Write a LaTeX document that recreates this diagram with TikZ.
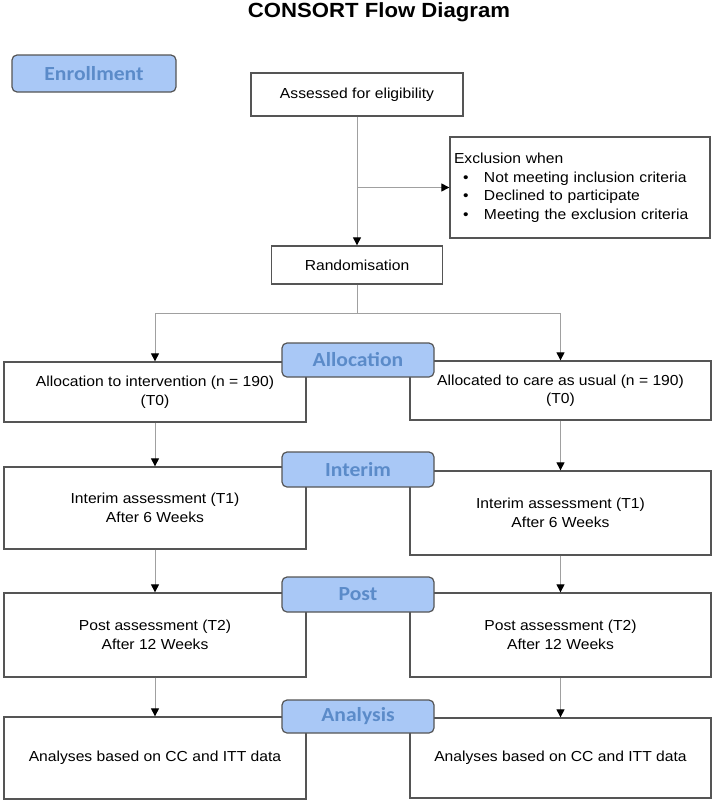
\documentclass[tikz,border=0pt]{standalone}
\usepackage{fontspec}
\setmainfont{Liberation Sans}[FakeStretch=1.08]
\newfontfamily\labelfont{Carlito}[FakeStretch=1.08]
\usepackage{tikz}
\usetikzlibrary{arrows.meta, positioning}
\definecolor{stagefill}{HTML}{A9C8F6}
\definecolor{stagetext}{HTML}{5B8BC9}
\definecolor{boxline}{HTML}{555555}
\definecolor{flowline}{HTML}{A0A0A0}

\begin{document}
\begin{tikzpicture}[x=1pt, y=-1pt]
    % Setup the styles for the boxes, the stage labels and the arrows
        \tikzset{box style/.style={draw=boxline,
                                   line width=1.3pt,
                                   fill=white,
                                   inner sep=0pt,
                                   align=center,
                                   font=\fontsize{14.5}{18.5}\selectfont},
                 stage style/.style={draw=boxline,
                                     line width=1.2pt,
                                     rounded corners=5pt,
                                     fill=stagefill,
                                     text=stagetext,
                                     inner sep=0pt,
                                     font=\labelfont\bfseries\fontsize{20}{22}\selectfont},
                 flow style/.style={line width=1pt,
                                    draw=flowline,
                                    -{Triangle[width=8pt, length=8pt, color=black]}}}
        \useasboundingbox (0, 0) rectangle (714, 803);
        \node[font=\bfseries\fontsize{20.5}{22}\selectfont] at (379, 12) (title) {CONSORT Flow Diagram};
        % Draw the boxes
        \node[box style, minimum width=212, minimum height=43] at (357, 94.5)  (assess) {Assessed for eligibility};
        \node[box style, minimum width=260, minimum height=101,
              text width=252, inner xsep=4pt, align=left] at (580, 187.5) (excl)
              {Exclusion when\\
               \hspace*{9pt}\makebox[21pt][l]{\textbullet}Not meeting inclusion criteria\\
               \hspace*{9pt}\makebox[21pt][l]{\textbullet}Declined to participate\\
               \hspace*{9pt}\makebox[21pt][l]{\textbullet}Meeting the exclusion criteria};
        \node[box style, minimum width=171, minimum height=38] at (357, 265)   (rand) {Randomisation};
        \node[box style, minimum width=302, minimum height=60] at (155, 392)   (allocL) {Allocation to intervention (n = 190)\\(T0)};
        \node[box style, minimum width=301, minimum height=59] at (560.5, 390.5) (allocR) {Allocated to care as usual (n = 190)\\(T0)};
        \node[box style, minimum width=302, minimum height=82] at (155, 508)   (interimL) {Interim assessment (T1)\\After 6 Weeks};
        \node[box style, minimum width=301, minimum height=84] at (560.5, 513) (interimR) {Interim assessment (T1)\\After 6 Weeks};
        \node[box style, minimum width=302, minimum height=84] at (155, 635)   (postL) {Post assessment (T2)\\After 12 Weeks};
        \node[box style, minimum width=301, minimum height=84] at (560.5, 635) (postR) {Post assessment (T2)\\After 12 Weeks};
        \node[box style, minimum width=302, minimum height=82] at (155, 758)   (analysisL) {Analyses based on CC and ITT data};
        \node[box style, minimum width=301, minimum height=80] at (560.5, 758) (analysisR) {Analyses based on CC and ITT data};
        % Draw the stage labels on top
        \node[stage style, minimum width=164, minimum height=37] at (94, 73.5)  (enrollment) {Enrollment};
        \node[stage style, minimum width=152, minimum height=34] at (358, 360)  (allocation) {Allocation};
        \node[stage style, minimum width=152, minimum height=35] at (358, 469.5) (interim) {Interim};
        \node[stage style, minimum width=152, minimum height=35] at (358, 594.5) (post) {Post};
        \node[stage style, minimum width=152, minimum height=33] at (358, 716.5) (analysis) {Analysis};
        % Connect the boxes with arrows
        \coordinate (split) at (357, 313);
        \path[every edge/.append style={flow style}]
        (assess) edge (rand)
        (assess |- excl) edge (excl)
        (allocL) edge (interimL)
        (interimL) edge (postL)
        (postL) edge (analysisL)
        (allocR) edge (interimR)
        (interimR) edge (postR)
        (postR) edge (analysisR);
        \draw[line width=1pt, draw=flowline] (rand) -- (split);
        \draw[flow style] (split) -| (allocL.north);
        \draw[flow style] (split) -| (allocR.north);
\end{tikzpicture}
\end{document}
